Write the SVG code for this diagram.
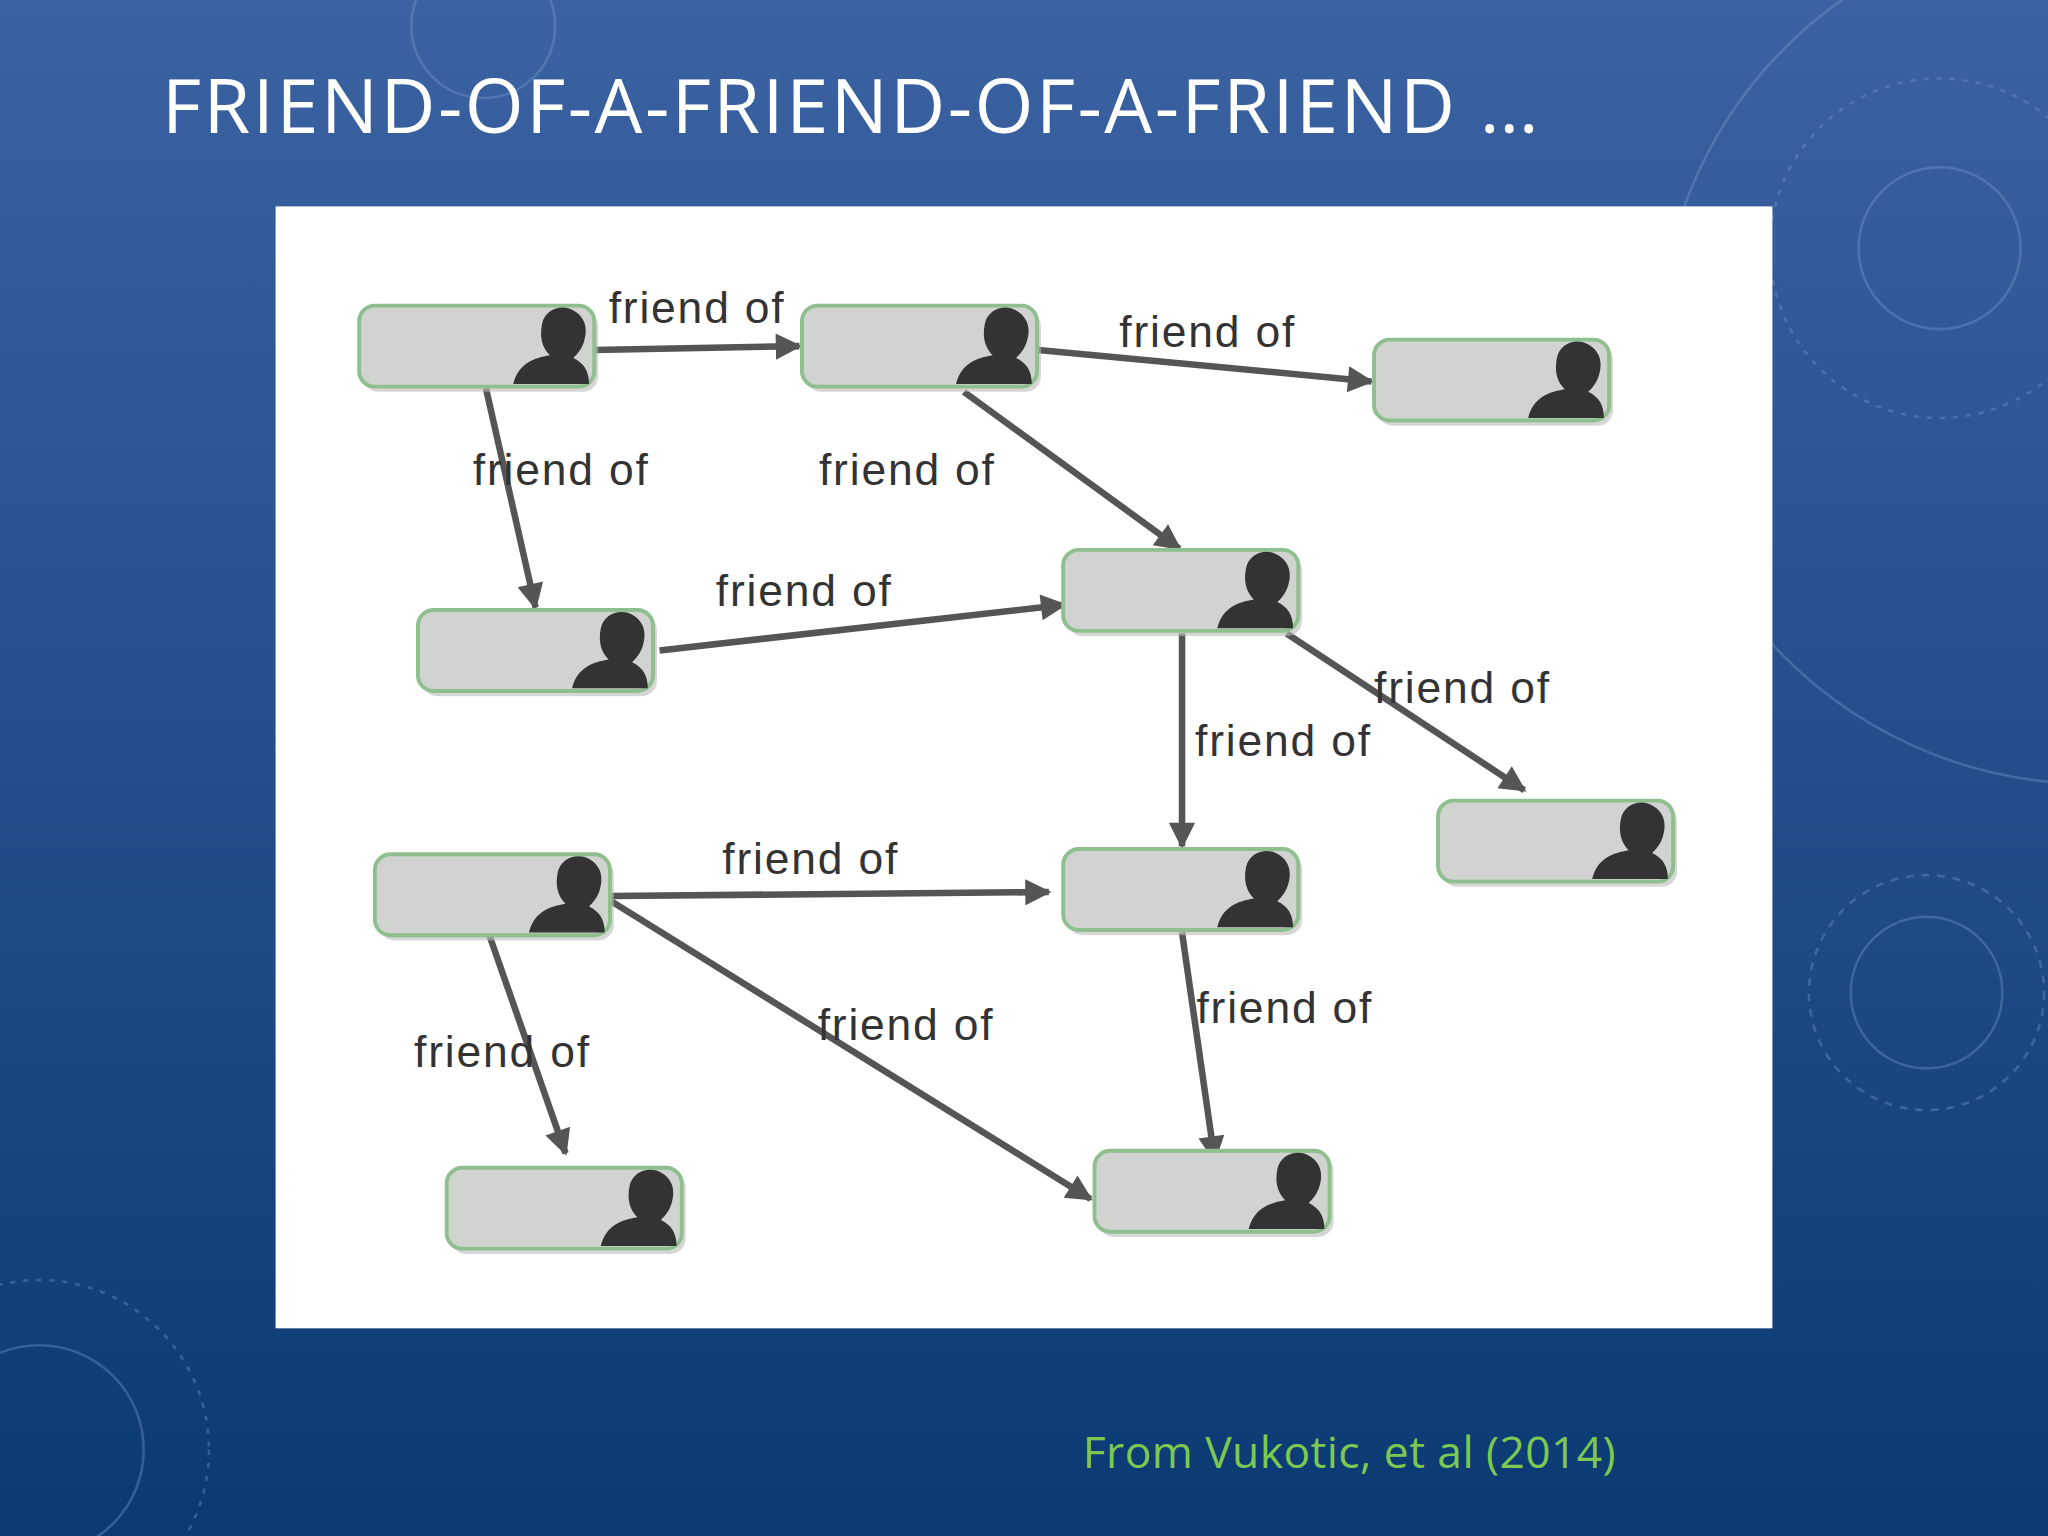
<svg xmlns="http://www.w3.org/2000/svg" width="2048" height="1536" viewBox="0 0 2048 1536">
<defs>
<linearGradient id="bg" x1="0" y1="0" x2="0" y2="1"><stop offset="0" stop-color="#3b62a2"/><stop offset="1" stop-color="#0b3a73"/></linearGradient>
<marker id="ah" viewBox="0 0 10 10" refX="9" refY="5" markerWidth="5" markerHeight="4" orient="auto" markerUnits="strokeWidth"><path d="M0,0 L10,5 L0,10 z" fill="#555"/></marker>
<g id="node">
<rect x="3" y="4" width="180" height="62" rx="12" fill="#bbb" opacity="0.6"/>
<rect x="0" y="0" width="180" height="62" rx="12" fill="#d1d3d1" stroke="#8fbf8f" stroke-width="3"/>
<path d="M118,60 C122,44 134,40 146,38 C140,32 138,24 140,14 C142,4 152,0 160,2 C172,6 176,16 172,28 C170,34 166,38 164,40 C172,44 176,50 176,60 Z" fill="#333"/>
</g>
<style>
.e{stroke:#555;stroke-width:5;fill:none;marker-end:url(#ah)}
.l{font-family:"Liberation Sans",Arial,sans-serif;font-size:34px;fill:#333}
.d{fill:none;stroke:#7ea0d0;stroke-width:2;opacity:0.35}
</style>
</defs>
<rect width="2048" height="1536" fill="url(#bg)"/>
<g transform="scale(1.30612)">
<g id="decor">
<circle cx="370" cy="20" r="55" class="d"/>
<circle cx="1485" cy="190" r="62" class="d"/>
<circle cx="1485" cy="190" r="130" class="d" stroke-dasharray="4 6"/>
<circle cx="1475" cy="760" r="58" class="d"/>
<circle cx="1475" cy="760" r="90" class="d" stroke-dasharray="6 6"/>
<circle cx="30" cy="1110" r="80" class="d"/>
<circle cx="30" cy="1110" r="130" class="d" stroke-dasharray="4 6"/>
<circle cx="1600" cy="270" r="330" class="d"/>
</g>
<text x="124" y="102" font-family="'Open Sans','Liberation Sans',sans-serif" font-size="58" fill="#fff" textLength="1054">FRIEND-OF-A-FRIEND-OF-A-FRIEND …</text>
<rect x="211" y="158" width="1146" height="859" fill="#fff"/>
<g id="connectors">
<line class="e" x1="455" y1="268" x2="612" y2="265"/>
<line class="e" x1="795" y1="268" x2="1050" y2="292"/>
<line class="e" x1="372" y1="297" x2="410" y2="465"/>
<line class="e" x1="738" y1="300" x2="903" y2="420"/>
<line class="e" x1="505" y1="498" x2="815" y2="463"/>
<line class="e" x1="985" y1="485" x2="1167" y2="605"/>
<line class="e" x1="905" y1="485" x2="905" y2="648"/>
<line class="e" x1="468" y1="686" x2="803" y2="683"/>
<line class="e" x1="375" y1="717" x2="433" y2="883"/>
<line class="e" x1="468" y1="690" x2="835" y2="918"/>
<line class="e" x1="905" y1="714" x2="930" y2="888"/>
</g>
<g id="labels">
<text class="l" x="466" y="247" textLength="134">friend of</text>
<text class="l" x="857" y="266" textLength="134">friend of</text>
<text class="l" x="362" y="371" textLength="134">friend of</text>
<text class="l" x="627" y="371" textLength="134">friend of</text>
<text class="l" x="548" y="464" textLength="134">friend of</text>
<text class="l" x="1052" y="538" textLength="134">friend of</text>
<text class="l" x="915" y="579" textLength="134">friend of</text>
<text class="l" x="553" y="669" textLength="134">friend of</text>
<text class="l" x="626" y="796" textLength="134">friend of</text>
<text class="l" x="916" y="783" textLength="134">friend of</text>
<text class="l" x="317" y="817" textLength="134">friend of</text>
</g>
<g id="n1"><use href="#node" x="275" y="234"/></g>
<g id="n2"><use href="#node" x="614" y="234"/></g>
<g id="n3"><use href="#node" x="1052" y="260"/></g>
<g id="n4"><use href="#node" x="320" y="467"/></g>
<g id="n5"><use href="#node" x="814" y="421"/></g>
<g id="n6"><use href="#node" x="1101" y="613"/></g>
<g id="n7"><use href="#node" x="287" y="654"/></g>
<g id="n8"><use href="#node" x="814" y="650"/></g>
<g id="n9"><use href="#node" x="342" y="894"/></g>
<g id="n10"><use href="#node" x="838" y="881"/></g>
<text x="829" y="1124" font-family="'Open Sans','Liberation Sans',sans-serif" font-size="34" fill="#7cc850" textLength="408">From Vukotic, et al (2014)</text>
</g>
</svg>
